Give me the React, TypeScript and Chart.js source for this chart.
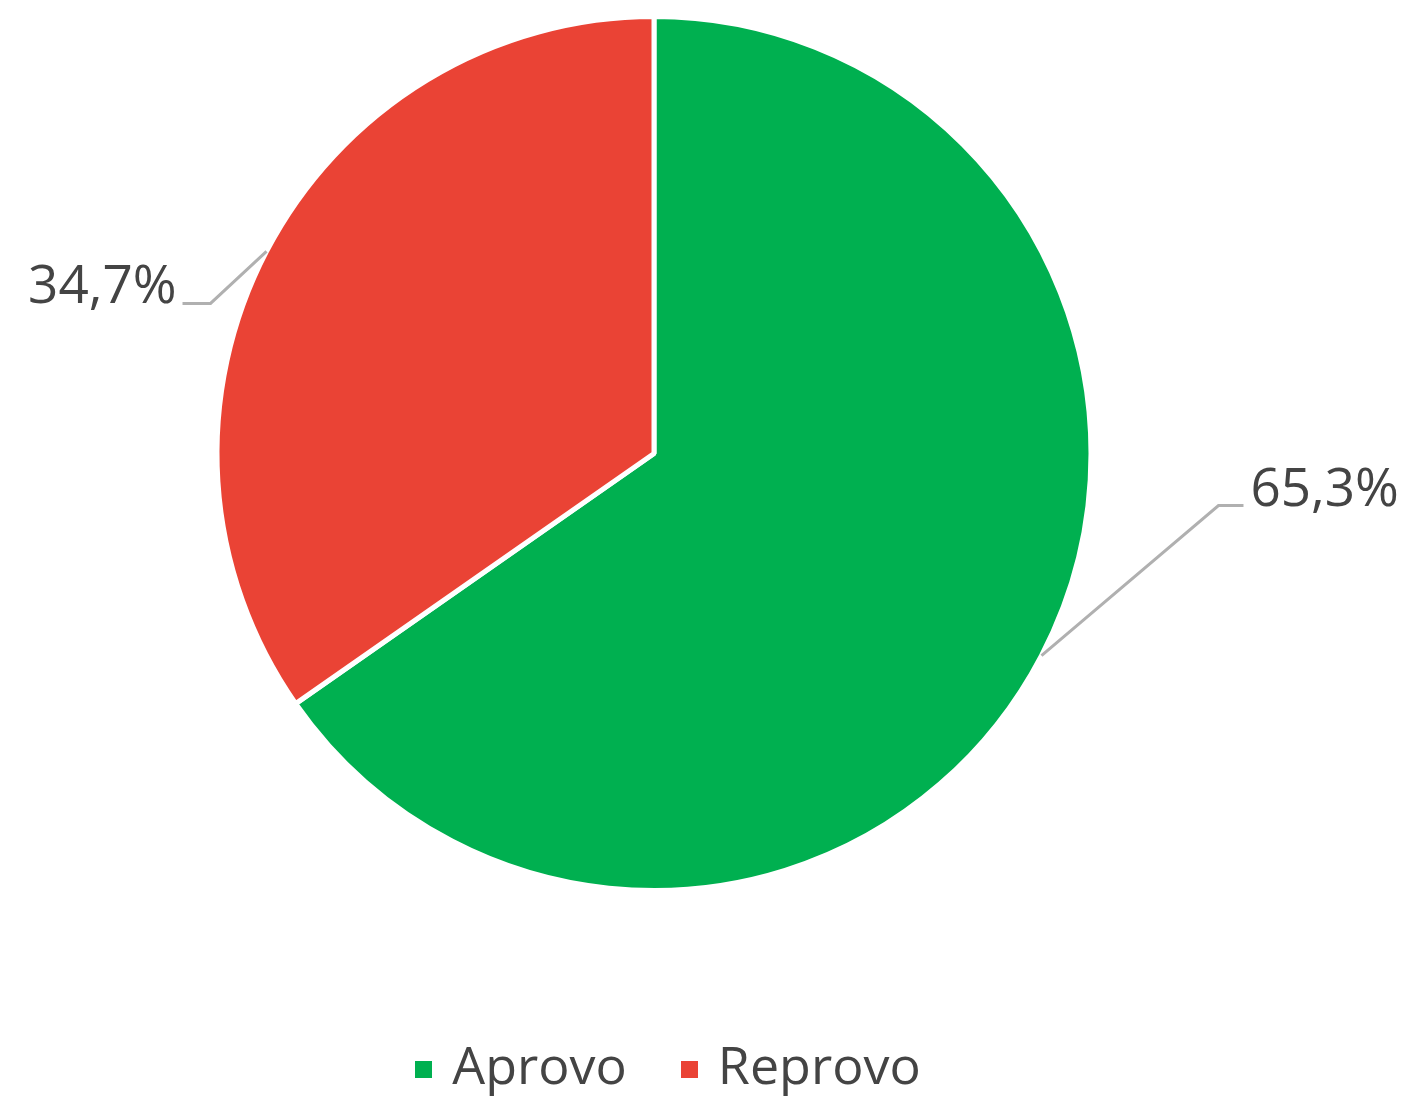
import React, { useEffect, useRef } from "react";
import { Chart, registerables } from "chart.js";

Chart.register(...registerables);

const categories = ["Aprovo", "Reprovo"];
const values = [65.3, 34.7];
const sliceColors = ["#00B050", "#EA4335"];

const FONT = '"Open Sans", "Noto Sans", sans-serif';
const TEXT_COLOR = "#444444";
const LINE_COLOR = "#B0B0B0";
const LEGEND_SQUARE = 17;

// leader-line geometry per slice (elbow offset from the arc edge, horizontal run)
const leaderStyle = [
  { dx: 177, dy: -150, run: 25, gap: 7 },
  { dx: -56, dy: 52, run: -28, gap: 6 },
];

const fmt = (v: number) => v.toFixed(1).replace(".", ",") + "%";

function squareMarker(color: string): HTMLCanvasElement {
  const c = document.createElement("canvas");
  c.width = LEGEND_SQUARE;
  c.height = LEGEND_SQUARE;
  const g = c.getContext("2d");
  if (g) {
    g.fillStyle = color;
    g.fillRect(0, 0, LEGEND_SQUARE, LEGEND_SQUARE);
  }
  return c;
}

const leaderPlugin = {
  id: "leaders",
  afterLayout(chart: any) {
    if (chart.legend) {
      chart.legend.left += 17;
      chart.legend.right += 17;
    }
  },
  afterDatasetsDraw(chart: any) {
    const ctx = chart.ctx;
    const meta = chart.getDatasetMeta(0);
    const total = values.reduce((a, b) => a + b, 0);
    meta.data.forEach((arc: any, i: number) => {
      const p = arc.getProps(["x", "y", "startAngle", "endAngle", "outerRadius"], true);
      const mid = (p.startAngle + p.endAngle) / 2;
      const sx = p.x + Math.cos(mid) * p.outerRadius;
      const sy = p.y + Math.sin(mid) * p.outerRadius;
      const L = leaderStyle[i];
      const ex = sx + L.dx;
      const ey = sy + L.dy;
      const tx = ex + L.run;
      ctx.save();
      ctx.strokeStyle = LINE_COLOR;
      ctx.lineWidth = 3;
      ctx.beginPath();
      ctx.moveTo(sx, sy);
      ctx.lineTo(ex, ey);
      ctx.lineTo(tx, ey);
      ctx.stroke();
      ctx.fillStyle = TEXT_COLOR;
      ctx.font = `53px ${FONT}`;
      ctx.textBaseline = "alphabetic";
      ctx.textAlign = L.run > 0 ? "left" : "right";
      ctx.fillText(fmt((values[i] / total) * 100), tx + (L.run > 0 ? L.gap : -L.gap), ey);
      ctx.restore();
    });
  },
};

export default function App() {
  const ref = useRef<HTMLCanvasElement | null>(null);

  useEffect(() => {
    if (!ref.current) return;
    const markers = sliceColors.map(squareMarker);
    const chart = new Chart(ref.current, {
      type: "pie",
      data: {
        labels: categories,
        datasets: [
          {
            data: values,
            backgroundColor: sliceColors,
            borderColor: "#FFFFFF",
            borderWidth: 5,
            hoverOffset: 0,
            hoverBorderWidth: 5,
          },
        ],
      },
      options: {
        animation: false,
        responsive: false,
        layout: { padding: { top: 14, left: 0, right: 103, bottom: 0 } },
        plugins: {
          tooltip: { enabled: false },
          legend: {
            position: "bottom",
            title: {
              display: true,
              text: "",
              font: { size: 10, lineHeight: 1 },
              padding: { top: 80, bottom: 0 },
            },
            labels: {
              usePointStyle: true,
              pointStyleWidth: 5,
              boxWidth: 17,
              boxHeight: 17,
              padding: 60,
              color: TEXT_COLOR,
              font: { family: FONT, size: 52 },
              generateLabels: (c: any) => {
                const base = (Chart as any).overrides.pie.plugins.legend.labels.generateLabels(c);
                return base.map((it: any, i: number) => ({
                  ...it,
                  lineWidth: 0,
                  strokeStyle: it.fillStyle,
                  pointStyle: markers[i],
                }));
              },
            },
          },
        },
      },
      plugins: [leaderPlugin],
    });
    return () => chart.destroy();
  }, []);

  return (
    <div
      style={{
        position: "absolute",
        left: 0,
        top: 0,
        width: 1411,
        height: 1096,
        overflow: "hidden",
        background: "#FFFFFF",
      }}
    >
      <canvas ref={ref} width={1411} height={1105} style={{ display: "block" }} />
    </div>
  );
}
